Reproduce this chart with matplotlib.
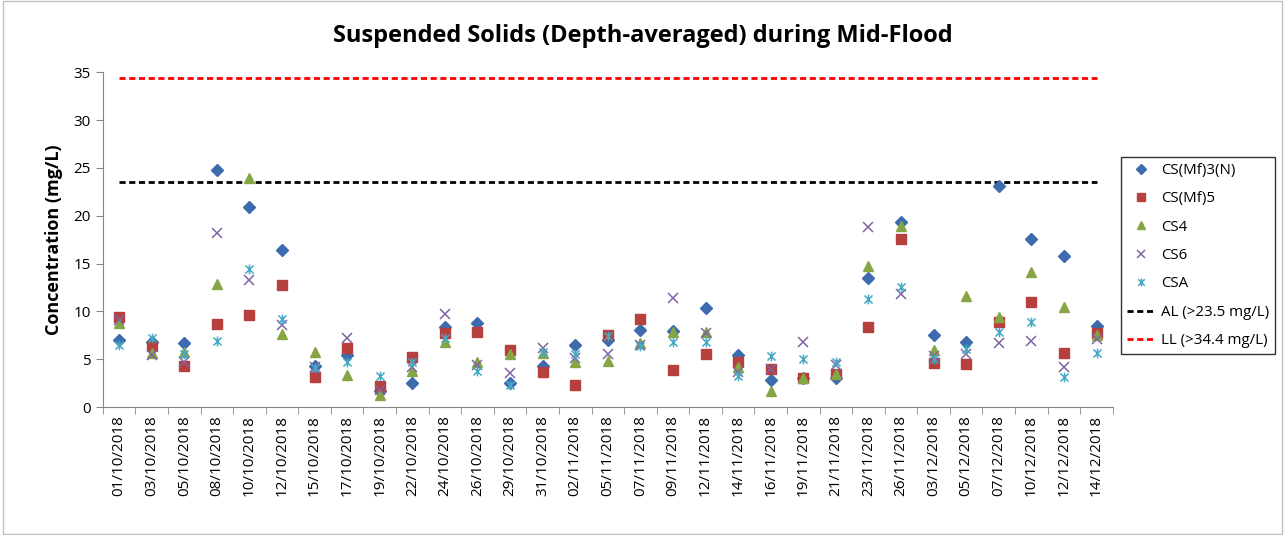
import matplotlib
matplotlib.use("Agg")
import matplotlib.pyplot as plt
from matplotlib.path import Path

dates = [
    "01/10/2018", "03/10/2018", "05/10/2018", "08/10/2018", "10/10/2018",
    "12/10/2018", "15/10/2018", "17/10/2018", "19/10/2018", "22/10/2018",
    "24/10/2018", "26/10/2018", "29/10/2018", "31/10/2018", "02/11/2018",
    "05/11/2018", "07/11/2018", "09/11/2018", "12/11/2018", "14/11/2018",
    "16/11/2018", "19/11/2018", "21/11/2018", "23/11/2018", "26/11/2018",
    "03/12/2018", "05/12/2018", "07/12/2018", "10/12/2018", "12/12/2018",
    "14/12/2018",
]

cs_mf3n = [7.0, 6.8, 6.7, 24.8, 20.9, 16.4, 4.3, 5.4, 1.7, 2.5, 8.4, 8.8, 2.5, 4.3, 6.5,
           7.0, 8.1, 8.0, 10.4, 5.4, 2.8, 3.0, 3.0, 13.5, 19.3, 7.5, 6.8, 23.1, 17.6, 15.8, 8.5]
cs_mf5 = [9.4, 6.4, 4.3, 8.7, 9.6, 12.8, 3.2, 6.2, 2.2, 5.2, 7.7, 7.9, 6.0, 3.7, 2.3,
          7.5, 9.2, 3.9, 5.6, 4.7, 4.0, 3.0, 3.5, 8.4, 17.6, 4.6, 4.5, 8.9, 11.0, 5.7, 7.7]
cs4 = [8.8, 5.7, 5.8, 12.9, 23.9, 7.6, 5.8, 3.4, 1.25, 3.8, 6.8, 4.7, 5.6, 5.7, 4.7,
       4.8, 6.7, 7.9, 7.9, 4.2, 1.7, 3.0, 3.5, 14.8, 18.9, 6.0, 11.6, 9.4, 14.1, 10.5, 7.5]
cs6 = [9.1, 5.4, 4.7, 18.2, 13.3, 8.6, 4.2, 7.2, 1.8, 4.2, 9.7, 4.4, 3.6, 6.2, 5.1,
       5.6, 6.5, 11.4, 7.7, 3.7, 4.0, 6.8, 4.4, 18.8, 11.8, 5.3, 5.6, 6.7, 6.9, 4.2, 7.1]
csa = [6.5, 7.2, 5.6, 6.9, 14.4, 9.2, 4.1, 4.7, 3.3, 4.7, 7.2, 3.8, 2.3, 5.8, 5.6,
       7.4, 6.4, 6.8, 6.8, 3.3, 5.3, 5.0, 4.7, 11.3, 12.6, 5.0, 6.1, 7.9, 8.9, 3.2, 5.7]

al_limit = 23.5
ll_limit = 34.4
y_ticks = [0, 5, 10, 15, 20, 25, 30, 35]

plt.rcParams["font.family"] = ["Open Sans", "DejaVu Sans"]

# asterisk marker like Excel's "star"
star = Path(
    [(-1, -1), (1, 1), (-1, 1), (1, -1), (0, -1.2), (0, 1.2)],
    [Path.MOVETO, Path.LINETO, Path.MOVETO, Path.LINETO, Path.MOVETO, Path.LINETO],
)

fig = plt.figure(figsize=(12.85, 5.35), dpi=100)
ax = fig.add_axes([0.080, 0.239, 0.786, 0.626])

x = list(range(len(dates)))
series = [
    (cs_mf3n, "CS(Mf)3(N)", "D", "#3D6CAE", 6.5, 1),
    (cs_mf5, "CS(Mf)5", "s", "#B5403D", 6.5, 1),
    (cs4, "CS4", "^", "#86A645", 7.5, 1),
    (cs6, "CS6", "x", "#7F64A3", 7, 1.1),
    (csa, "CSA", star, "#45A8C5", 7, 1.1),
]
for vals, label, mk, col, ms, mew in series:
    if mk in ("x",) or mk is star:
        ax.plot(x, vals, ls="none", marker=mk, ms=ms, mec=col, mfc="none", mew=mew,
                label=label, zorder=3)
    else:
        ax.plot(x, vals, ls="none", marker=mk, ms=ms, color=col, mec=col,
                label=label, zorder=3)

ax.plot([x[0], x[-1]], [al_limit, al_limit], color="black", lw=2,
        dashes=(2.2, 1.3), label="AL (>23.5 mg/L)", zorder=2)
ax.plot([x[0], x[-1]], [ll_limit, ll_limit], color="#FF0000", lw=2,
        dashes=(2.2, 1.3), label="LL (>34.4 mg/L)", zorder=2)

ax.set_xlim(-0.5, len(dates) - 0.5)
ax.set_ylim(0, 35)
ax.set_yticks(y_ticks, labels=[str(t) for t in y_ticks], fontsize=11)
ax.set_xticks(x, labels=dates, rotation=90, fontsize=11)
ax.set_xticks([i - 0.5 for i in range(len(dates) + 1)], minor=True)
ax.tick_params(axis="x", which="major", length=0, pad=6)
ax.tick_params(axis="x", which="minor", length=5, color="#868686")
ax.tick_params(axis="y", length=5, color="#868686")

for s in ["top", "right"]:
    ax.spines[s].set_visible(False)
for s in ["left", "bottom"]:
    ax.spines[s].set_color("#868686")

ax.set_ylabel("Concentration (mg/L)", fontsize=13, fontweight="bold", labelpad=8)
fig.text(0.5, 0.933, "Suspended Solids (Depth-averaged) during Mid-Flood",
         ha="center", va="center", fontsize=17, fontweight="bold")

leg = ax.legend(loc="upper left", bbox_to_anchor=(0.8724, 0.7065),
                bbox_transform=fig.transFigure, fontsize=10.8, frameon=True,
                fancybox=False, edgecolor="black", labelspacing=0.89,
                handlelength=1.9, handletextpad=0.35, borderpad=0.4,
                borderaxespad=0, markerscale=0.8)
leg.get_frame().set_linewidth(1)

fig.patches.append(plt.Rectangle((0.002, 0.002), 0.996, 0.996, transform=fig.transFigure,
                                 fill=False, edgecolor="#bfbfbf", lw=1))

fig.savefig("out.png", dpi=100)
